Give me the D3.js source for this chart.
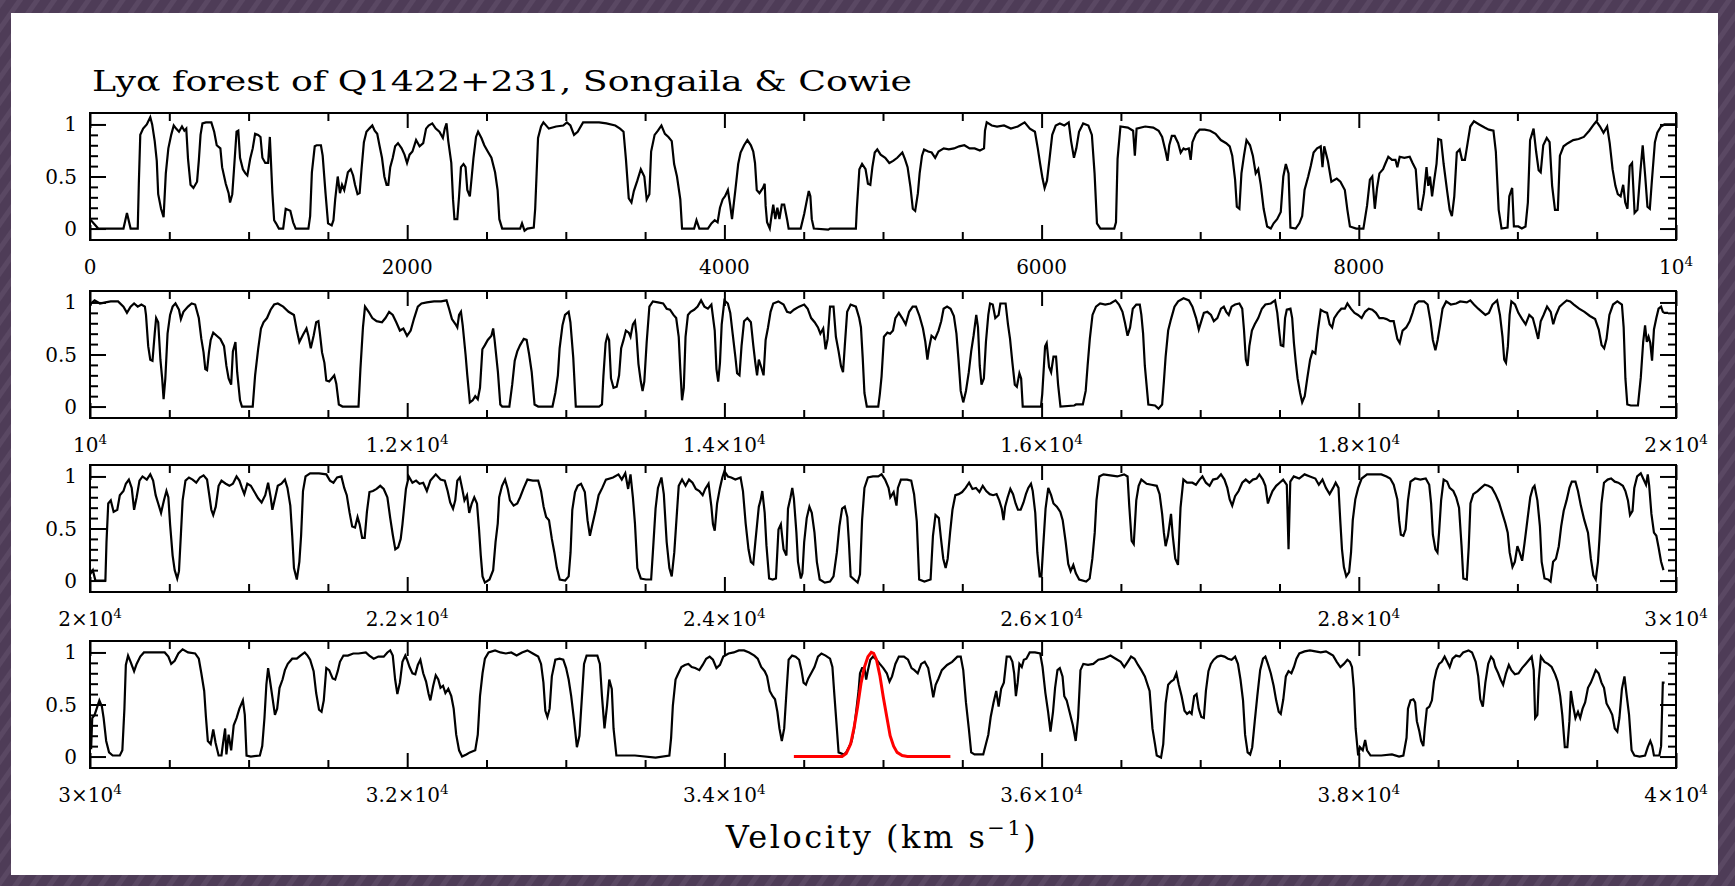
<!DOCTYPE html>
<html><head><meta charset="utf-8">
<script src="https://cdn.jsdelivr.net/npm/d3@7"></script>
<style>html,body{margin:0;padding:0;background:#4f3d58;}svg{display:block}</style>
</head><body><svg id="c" width="1735" height="886"></svg>
<script>
const titleText = "Lyα forest of Q1422+231, Songaila & Cowie";
const xAxisTitle = ["Velocity (km s", "−1", ")"];
const panelStarts = [0, 10000, 20000, 30000];
const yTickLabels = ["0", "0.5", "1"];
const xTickLabels = [
  ["0", "2000", "4000", "6000", "8000", "10^4"],
  ["10^4", "1.2×10^4", "1.4×10^4", "1.6×10^4", "1.8×10^4", "2×10^4"],
  ["2×10^4", "2.2×10^4", "2.4×10^4", "2.6×10^4", "2.8×10^4", "3×10^4"],
  ["3×10^4", "3.2×10^4", "3.4×10^4", "3.6×10^4", "3.8×10^4", "4×10^4"]
];

const spectrum1 = [[0,0.09],[52,0],[211,0],[233,0.15],[256,0],[301,0],[308,0.44],[317,0.90],[335,0.96],[358,1.0],[380,1.07],[392,1.0],[408,0.84],[421,0.65],[430,0.33],[448,0.19],[464,0.11],[478,0.53],[494,0.77],[512,0.90],[528,0.99],[543,0.96],[561,0.93],[580,0.98],[595,0.94],[607,0.96],[618,0.67],[634,0.42],[652,0.39],[675,0.45],[686,0.65],[697,0.90],[709,1.01],[731,1.02],[765,1.02],[783,0.93],[799,0.80],[822,0.77],[833,0.59],[856,0.43],[874,0.34],[883,0.25],[897,0.33],[908,0.57],[924,0.93],[935,0.94],[946,0.68],[964,0.57],[980,0.53],[992,0.51],[1010,0.67],[1026,0.77],[1041,0.91],[1060,0.90],[1075,0.88],[1087,0.68],[1105,0.63],[1123,0.63],[1134,0.88],[1150,0.34],[1161,0.08],[1173,0.05],[1191,0],[1218,0],[1234,0.19],[1263,0.17],[1281,0.06],[1297,0],[1377,0],[1388,0.12],[1399,0.54],[1417,0.79],[1429,0.80],[1456,0.80],[1467,0.70],[1485,0.34],[1501,0.05],[1524,0.03],[1535,0.08],[1546,0.28],[1562,0.50],[1576,0.34],[1589,0.42],[1603,0.37],[1614,0.45],[1626,0.54],[1644,0.57],[1659,0.51],[1671,0.42],[1687,0.33],[1700,0.34],[1712,0.57],[1727,0.83],[1743,0.93],[1761,0.96],[1780,0.99],[1795,0.94],[1811,0.91],[1825,0.80],[1841,0.68],[1856,0.50],[1870,0.42],[1881,0.42],[1893,0.59],[1909,0.68],[1924,0.79],[1942,0.82],[1965,0.77],[1983,0.71],[1999,0.63],[2015,0.71],[2033,0.74],[2056,0.85],[2078,0.79],[2101,0.82],[2119,0.96],[2135,0.99],[2158,1.01],[2180,0.96],[2203,0.93],[2225,0.87],[2237,0.96],[2248,1.01],[2259,0.84],[2278,0.63],[2289,0.28],[2298,0.09],[2316,0.09],[2327,0.31],[2339,0.59],[2355,0.62],[2368,0.59],[2379,0.37],[2395,0.31],[2407,0.50],[2418,0.68],[2434,0.88],[2447,0.93],[2468,0.87],[2486,0.80],[2508,0.74],[2531,0.68],[2554,0.54],[2570,0.37],[2581,0.09],[2599,0],[2712,0],[2724,0.05],[2740,-0.02],[2758,0],[2798,0.01],[2807,0.19],[2816,0.53],[2825,0.87],[2844,0.98],[2859,1.02],[2893,0.96],[2939,0.98],[2984,0.99],[3007,1.02],[3029,0.99],[3052,0.90],[3075,0.93],[3109,1.02],[3165,1.02],[3210,1.02],[3256,1.01],[3312,0.99],
[3342,0.96],[3364,0.93],[3379,0.67],[3397,0.29],[3414,0.25],[3429,0.36],[3451,0.46],[3473,0.57],[3495,0.50],[3510,0.28],[3527,0.33],[3538,0.74],[3560,0.90],[3581,0.94],[3603,0.99],[3625,0.91],[3647,0.88],[3668,0.84],[3683,0.62],[3701,0.50],[3722,0.28],[3733,0],[3809,0],[3824,0.08],[3842,0],[3896,0],[3918,0.05],[3939,0.08],[3957,0.06],[3972,0.20],[3989,0.28],[4004,0.31],[4022,0.37],[4037,0.22],[4048,0.09],[4069,0.37],[4087,0.62],[4102,0.73],[4124,0.80],[4145,0.85],[4167,0.80],[4182,0.74],[4193,0.63],[4204,0.37],[4221,0.34],[4243,0.39],[4254,0.43],[4260,0.22],[4269,0.06],[4286,0],[4297,0.12],[4308,0.23],[4321,0.09],[4334,0.20],[4347,0.09],[4362,0.23],[4377,0.23],[4395,0.09],[4405,0],[4481,0],[4503,0.14],[4521,0.28],[4532,0.36],[4542,0.31],[4551,0.09],[4564,0],[4655,-0.01],[4666,0],[4829,0],[4835,0.19],[4851,0.57],[4868,0.62],[4890,0.57],[4905,0.43],[4920,0.42],[4933,0.59],[4948,0.73],[4964,0.76],[4985,0.71],[5014,0.68],[5040,0.63],[5064,0.65],[5090,0.68],[5122,0.73],[5138,0.67],[5155,0.59],[5173,0.40],[5188,0.19],[5203,0.17],[5220,0.34],[5231,0.53],[5246,0.70],[5259,0.76],[5285,0.74],[5307,0.73],[5329,0.68],[5350,0.74],[5383,0.77],[5415,0.76],[5448,0.77],[5480,0.79],[5513,0.80],[5546,0.77],[5578,0.77],[5611,0.75],[5637,0.77],[5643,0.94],[5654,1.02],[5686,0.99],[5719,0.98],[5763,0.99],[5806,0.96],[5850,0.98],[5893,1.02],[5926,0.96],[5958,0.93],[5976,0.77],[5991,0.62],[6006,0.48],[6019,0.39],[6034,0.46],[6050,0.67],[6067,0.90],[6089,0.99],[6115,1.01],[6143,0.99],[6171,1.02],[6186,0.84],[6204,0.68],[6219,0.77],[6236,0.93],[6262,1.01],[6295,0.99],[6317,0.90],[6334,0.53],[6349,0.05],[6371,0],[6458,0],[6469,0.06],[6479,0.67],[6497,0.98],[6544,0.97],[6577,0.94],[6588,0.70],[6599,0.96],[6653,0.98],
[6704,0.97],[6738,0.94],[6760,0.88],[6782,0.74],[6794,0.65],[6805,0.80],[6821,0.89],[6839,0.89],[6861,0.82],[6877,0.73],[6895,0.77],[6906,0.76],[6928,0.77],[6940,0.66],[6951,0.83],[6973,0.91],[6996,0.95],[7029,0.95],[7063,0.94],[7097,0.91],[7130,0.85],[7164,0.82],[7186,0.79],[7202,0.70],[7220,0.47],[7231,0.21],[7247,0.19],[7260,0.53],[7276,0.70],[7292,0.85],[7314,0.80],[7332,0.70],[7350,0.53],[7366,0.57],[7382,0.42],[7400,0.19],[7422,0.02],[7445,0],[7463,0.05],[7485,0.09],[7508,0.16],[7524,0.50],[7540,0.62],[7557,0.53],[7569,0.01],[7602,0],[7625,0.05],[7643,0.12],[7658,0.37],[7681,0.50],[7697,0.60],[7715,0.73],[7737,0.77],[7760,0.79],[7771,0.59],[7782,0.79],[7805,0.65],[7827,0.45],[7861,0.48],[7884,0.45],[7912,0.37],[7928,0.18],[7944,0.02],[7984,0],[8029,0],[8052,0.22],[8070,0.47],[8085,0.50],[8101,0.19],[8115,0.39],[8130,0.53],[8153,0.57],[8169,0.63],[8186,0.69],[8209,0.66],[8231,0.66],[8243,0.59],[8258,0.69],[8287,0.68],[8321,0.69],[8339,0.63],[8359,0.57],[8377,0.19],[8393,0.18],[8411,0.34],[8427,0.59],[8438,0.41],[8449,0.50],[8462,0.31],[8474,0.45],[8490,0.62],[8501,0.86],[8519,0.85],[8535,0.62],[8557,0.36],[8573,0.18],[8587,0.12],[8602,0.31],[8618,0.73],[8636,0.76],[8651,0.66],[8669,0.66],[8687,0.83],[8703,0.98],[8726,1.03],[8759,1.00],[8793,0.97],[8820,0.95],[8849,0.94],[8864,0.74],[8882,0.18],[8900,0],[8938,0.01],[8949,0.31],[8967,0.39],[8978,0.02],[9006,0.02],[9028,0],[9051,0.02],[9066,0.25],[9080,0.85],[9102,0.96],[9118,0.74],[9134,0.56],[9147,0.54],[9163,0.80],[9185,0.87],[9203,0.83],[9219,0.41],[9237,0.18],[9255,0.18],[9268,0.70],[9291,0.79],[9318,0.82],[9352,0.85],[9386,0.86],[9419,0.88],[9453,0.94],[9482,1.00],[9498,1.03],[9521,0.98],[9543,0.92],[9566,0.98],[9582,0.82],[9600,0.57],[9618,0.41],[9633,0.33],[9651,0.31],[9667,0.42],[9680,0.25],[9694,0.19],[9708,0.60],[9723,0.63],[9739,0.15],[9757,0.18],[9775,0.54],[9790,0.80],[9806,0.50],[9820,0.21],[9835,0.19],[9847,0.44],[9867,0.83],[9882,0.92],[9905,0.98],[9927,1.00],[9995,1.00]];

const spectrum2 = [[10000,0.97],[10007,0.99],[10029,1.02],[10063,0.99],[10097,1.00],[10131,1.01],[10177,1.01],[10211,0.96],[10233,0.90],[10256,0.96],[10278,0.99],[10301,0.96],[10324,0.98],[10346,0.96],[10353,0.88],[10367,0.58],[10380,0.45],[10394,0.44],[10408,0.70],[10417,0.85],[10430,0.81],[10444,0.45],[10455,0.27],[10464,0.07],[10475,0.27],[10489,0.70],[10505,0.88],[10521,0.96],[10539,0.99],[10561,0.93],[10573,0.84],[10589,0.91],[10618,0.96],[10641,0.99],[10663,0.98],[10686,0.85],[10702,0.65],[10716,0.52],[10727,0.36],[10738,0.35],[10750,0.52],[10761,0.64],[10777,0.71],[10799,0.68],[10822,0.65],[10845,0.58],[10860,0.39],[10874,0.27],[10890,0.21],[10901,0.53],[10917,0.62],[10928,0.33],[10946,0.06],[10958,0],[11026,0],[11041,0.30],[11060,0.55],[11078,0.75],[11094,0.81],[11116,0.85],[11139,0.93],[11161,0.98],[11184,0.99],[11218,0.96],[11252,0.91],[11286,0.88],[11304,0.73],[11320,0.62],[11343,0.69],[11365,0.75],[11377,0.68],[11392,0.56],[11410,0.68],[11426,0.81],[11440,0.82],[11449,0.71],[11463,0.52],[11478,0.42],[11490,0.25],[11508,0.24],[11524,0.27],[11540,0.30],[11553,0.22],[11569,0.02],[11592,0],[11693,0],[11705,0.36],[11721,0.76],[11734,0.96],[11757,0.91],[11780,0.85],[11807,0.82],[11841,0.81],[11863,0.85],[11886,0.91],[11909,0.88],[11931,0.81],[11954,0.73],[11976,0.75],[11999,0.68],[12022,0.73],[12044,0.85],[12067,0.96],[12090,0.99],[12124,1.00],[12169,1.01],[12214,1.01],[12248,1.02],[12264,0.94],[12282,0.84],[12305,0.79],[12316,0.76],[12327,0.88],[12339,0.91],[12350,0.78],[12368,0.50],[12379,0.30],[12395,0.04],[12413,0.06],[12429,0.10],[12445,0.07],[12459,0.18],[12474,0.55],[12490,0.59],[12508,0.64],[12531,0.68],[12542,0.75],[12551,0.64],[12572,0.33],[12587,0.02],[12599,0],[12644,0],[12662,0.21],[12678,0.44],[12694,0.53],[12712,0.59],[12735,0.65],[12753,0.64],[12769,0.50],[12785,0.33],[12803,0.02],[12826,0],[12916,0],[12934,0.13],[12950,0.30],[12961,0.56],[12979,0.78],[12995,0.88],[13018,0.91],[13029,0.81],[13047,0.47],[13063,0],[13210,0],[13228,0.02],[13237,0.29],[13251,0.61],[13262,0.68],[13273,0.64],[13285,0.27],[13301,0.18],
[13321,0.19],[13336,0.30],[13349,0.56],[13364,0.64],[13379,0.73],[13397,0.71],[13408,0.67],[13423,0.79],[13436,0.82],[13445,0.70],[13458,0.41],[13473,0.24],[13484,0.15],[13495,0.24],[13510,0.62],[13527,0.96],[13549,1.01],[13581,1.00],[13614,0.99],[13636,0.94],[13657,0.93],[13679,0.88],[13696,0.85],[13712,0.67],[13722,0.36],[13733,0.06],[13744,0.18],[13755,0.67],[13770,0.88],[13787,0.91],[13809,0.93],[13831,0.96],[13853,1.02],[13874,0.96],[13896,0.94],[13918,0.98],[13939,0.73],[13950,0.36],[13961,0.24],[13972,0.42],[13983,0.79],[14000,1.02],[14022,0.99],[14037,0.90],[14052,0.70],[14069,0.48],[14080,0.32],[14095,0.30],[14108,0.58],[14124,0.82],[14145,0.85],[14167,0.81],[14182,0.59],[14195,0.42],[14206,0.30],[14217,0.45],[14232,0.38],[14247,0.30],[14260,0.64],[14275,0.76],[14291,0.91],[14308,0.99],[14340,1.01],[14373,0.98],[14395,0.91],[14416,0.90],[14438,0.93],[14471,0.96],[14503,0.98],[14525,0.94],[14547,0.85],[14569,0.81],[14590,0.76],[14605,0.70],[14623,0.75],[14638,0.55],[14651,0.65],[14666,0.96],[14688,0.96],[14703,0.67],[14720,0.53],[14735,0.39],[14748,0.33],[14759,0.58],[14774,0.91],[14796,0.98],[14829,0.96],[14850,0.85],[14861,0.76],[14872,0.47],[14883,0.13],[14898,0],[14970,0],[14980,0.12],[14991,0.29],[15006,0.67],[15028,0.71],[15045,0.70],[15063,0.73],[15078,0.85],[15100,0.90],[15121,0.85],[15143,0.79],[15165,0.91],[15187,0.96],[15208,0.96],[15230,0.87],[15252,0.75],[15267,0.62],[15280,0.45],[15289,0.55],[15306,0.68],[15328,0.65],[15350,0.73],[15367,0.82],[15382,0.94],[15404,0.96],[15426,0.94],[15447,0.87],[15463,0.70],[15476,0.45],[15490,0.15],[15506,0.04],[15523,0.15],[15541,0.33],[15556,0.53],[15571,0.68],[15588,0.88],[15599,0.76],[15610,0.39],[15621,0.21],[15636,0.27],[15649,0.62],[15664,0.88],[15675,0.99],[15692,0.98],[15708,0.85],[15729,0.88],[15740,0.99],[15773,0.99],[15788,0.79],[15801,0.65],[15816,0.42],[15831,0.21],[15844,0.19],[15860,0.32],[15871,0.27],[15881,0],[15996,0],[16004,0.12],[16022,0.58],[16032,0.61],[16047,0.38],[16060,0.33],[16075,0.48],[16091,0.48],[16104,0.21],[16119,0],[16206,0.01],[16217,0.02],[16260,0.02],[16278,0.15],[16290,0.39],[16304,0.65],[16321,0.88],[16343,0.96],[16369,0.99],[16401,0.98],[16434,0.99],[16466,1.02],[16488,0.98],[16510,0.91],[16525,0.81],[16542,0.68],[16558,0.76],[16575,0.94],[16597,0.98],[16619,0.98],[16629,0.88],[16640,0.70],[16651,0.39],[16673,0.02],
[16715,0.01],[16737,-0.02],[16760,0.02],[16771,0.24],[16782,0.48],[16798,0.73],[16816,0.84],[16838,0.96],[16861,1.01],[16895,1.04],[16929,1.02],[16951,0.96],[16974,0.85],[16991,0.74],[17007,0.82],[17023,0.90],[17045,0.91],[17068,0.88],[17086,0.82],[17108,0.85],[17131,0.94],[17149,0.96],[17164,0.91],[17180,0.88],[17198,0.96],[17220,0.98],[17247,0.99],[17265,0.94],[17276,0.74],[17288,0.45],[17299,0.39],[17310,0.58],[17326,0.73],[17344,0.79],[17366,0.85],[17389,0.94],[17411,0.98],[17445,0.99],[17472,1.02],[17486,0.90],[17497,0.74],[17508,0.59],[17524,0.58],[17535,0.85],[17546,0.93],[17569,0.94],[17580,0.85],[17591,0.61],[17603,0.42],[17614,0.27],[17630,0.13],[17643,0.04],[17659,0.10],[17675,0.27],[17693,0.45],[17708,0.53],[17726,0.51],[17742,0.73],[17760,0.93],[17782,0.91],[17800,0.90],[17816,0.79],[17832,0.76],[17845,0.85],[17867,0.90],[17890,0.94],[17912,0.94],[17928,0.99],[17950,0.94],[17973,0.90],[17995,0.88],[18018,0.85],[18040,0.91],[18063,0.94],[18085,0.93],[18108,0.90],[18130,0.85],[18153,0.85],[18175,0.84],[18198,0.82],[18220,0.82],[18243,0.65],[18258,0.61],[18276,0.73],[18299,0.76],[18321,0.82],[18339,0.90],[18355,0.98],[18377,1.01],[18411,1.01],[18434,0.98],[18452,0.82],[18467,0.64],[18483,0.54],[18497,0.64],[18513,0.79],[18528,0.94],[18551,1.01],[18580,0.98],[18614,0.99],[18639,1.01],[18681,1.00],[18703,1.02],[18726,0.98],[18753,0.94],[18776,0.91],[18798,0.88],[18820,0.90],[18843,0.98],[18872,1.02],[18890,0.88],[18906,0.67],[18917,0.45],[18928,0.42],[18940,0.58],[18951,0.88],[18962,1.01],[18985,0.98],[19006,0.90],[19030,0.84],[19052,0.79],[19075,0.88],[19097,0.85],[19113,0.76],[19131,0.65],[19147,0.82],[19165,0.88],[19187,0.96],[19210,0.91],[19226,0.79],[19243,0.88],[19266,0.96],[19288,0.99],[19311,1.02],[19333,1.01],[19356,0.98],[19389,0.94],[19423,0.91],[19457,0.87],[19490,0.84],[19513,0.74],[19531,0.59],[19547,0.56],[19562,0.65],[19580,0.88],[19603,0.98],[19630,1.01],[19659,0.98],[19670,0.76],[19681,0.27],[19693,0.02],[19715,0.01],[19760,0.01],[19778,0.28],[19793,0.62],[19805,0.78],[19816,0.62],[19827,0.67],[19838,0.61],[19849,0.44],[19861,0.74],[19876,0.85],[19890,0.94],[19906,0.96],[19917,0.91],[19928,0.90],[19950,0.90]];

const spectrum3 = [[20000,0.06],[20018,0.10],[20034,0],[20097,0],[20104,0.37],[20115,0.74],[20131,0.77],[20149,0.66],[20172,0.68],[20188,0.82],[20211,0.86],[20226,0.93],[20245,0.97],[20263,0.89],[20278,0.68],[20294,0.80],[20312,0.96],[20331,1.00],[20358,0.97],[20380,1.02],[20398,0.96],[20414,0.82],[20430,0.74],[20448,0.65],[20466,0.77],[20482,0.86],[20494,0.80],[20505,0.54],[20521,0.24],[20534,0.10],[20550,0.02],[20561,0.09],[20573,0.44],[20584,0.77],[20602,0.96],[20624,0.99],[20647,0.97],[20670,0.94],[20693,0.99],[20716,1.01],[20738,0.97],[20754,0.80],[20765,0.68],[20777,0.63],[20793,0.71],[20811,0.91],[20829,0.96],[20856,0.93],[20879,0.91],[20901,0.93],[20924,1.00],[20942,0.96],[20958,0.89],[20973,0.83],[20992,0.93],[21014,0.91],[21037,0.85],[21060,0.79],[21082,0.75],[21105,0.82],[21123,0.94],[21139,0.80],[21150,0.68],[21168,0.80],[21184,0.91],[21207,0.93],[21229,0.97],[21245,0.89],[21263,0.72],[21275,0.43],[21286,0.12],[21304,0.01],[21320,0.18],[21331,0.43],[21343,0.86],[21359,1.00],[21388,1.03],[21444,1.03],[21490,1.02],[21513,0.96],[21535,0.94],[21558,0.99],[21585,1.00],[21603,0.89],[21619,0.82],[21637,0.65],[21653,0.52],[21671,0.51],[21687,0.61],[21700,0.54],[21716,0.41],[21732,0.41],[21746,0.66],[21762,0.85],[21784,0.86],[21807,0.88],[21830,0.91],[21852,0.88],[21875,0.80],[21893,0.60],[21909,0.44],[21925,0.30],[21943,0.32],[21959,0.40],[21970,0.54],[21983,0.74],[21992,0.88],[22010,1.00],[22033,0.94],[22056,0.96],[22078,0.93],[22101,0.94],[22124,0.86],[22146,0.96],[22180,1.02],[22210,0.97],[22237,0.96],[22255,0.86],[22271,0.75],[22289,0.69],[22303,0.77],[22316,0.96],[22332,0.99],[22346,0.89],[22361,0.77],[22377,0.82],[22391,0.65],[22407,0.74],[22423,0.80],[22440,0.74],[22453,0.49],[22464,0.24],[22475,0.04],[22490,-0.02],[22519,0.01],[22542,0.10],[22557,0.37],[22571,0.55],[22580,0.80],[22598,0.91],[22617,0.97],[22634,0.88],[22648,0.77],[22671,0.72],[22694,0.74],[22712,0.80],[22735,0.89],[22758,0.97],[22792,0.96],[22826,0.96],[22844,0.86],[22860,0.71],[22876,0.61],[22894,0.58],[22912,0.40],[22928,0.27],[22944,0.12],[22962,0.01],[22996,0],[23018,0.04],[23030,0.27],[23041,0.68],[23058,0.85],[23075,0.91],[23096,0.93],[23120,0.85],[23137,0.58],[23152,0.43],[23168,0.54],[23186,0.66],[23207,0.82],[23230,0.89],[23253,0.97],[23298,0.99],
[23332,1.02],[23353,0.97],[23375,1.03],[23393,0.88],[23408,1.02],[23423,0.80],[23436,0.55],[23451,0.12],[23473,0.02],[23505,0.01],[23538,0.01],[23549,0.27],[23566,0.69],[23581,0.89],[23603,0.99],[23618,0.83],[23636,0.37],[23653,0.12],[23668,0.04],[23684,0.27],[23701,0.66],[23712,0.91],[23733,0.97],[23755,0.91],[23777,0.97],[23799,0.94],[23820,0.88],[23842,0.86],[23863,0.82],[23879,0.88],[23900,0.93],[23918,0.71],[23928,0.54],[23939,0.48],[23954,0.74],[23972,0.89],[23987,0.99],[24000,1.05],[24022,1.00],[24043,0.99],[24069,0.97],[24102,0.99],[24117,0.86],[24134,0.55],[24152,0.30],[24167,0.18],[24182,0.16],[24195,0.37],[24217,0.71],[24228,0.77],[24239,0.86],[24254,0.65],[24265,0.34],[24282,0.02],[24304,0.01],[24325,0.02],[24341,0.49],[24356,0.54],[24373,0.30],[24391,0.24],[24401,0.69],[24417,0.80],[24428,0.89],[24438,0.79],[24454,0.46],[24464,0.18],[24482,0.02],[24492,0.07],[24503,0.37],[24519,0.60],[24536,0.71],[24551,0.65],[24568,0.46],[24583,0.18],[24601,0.01],[24633,-0.02],[24666,-0.01],[24688,0.04],[24709,0.27],[24725,0.52],[24742,0.69],[24759,0.71],[24775,0.61],[24785,0.37],[24796,0.04],[24818,0.01],[24840,-0.02],[24855,0.06],[24868,0.58],[24883,0.89],[24905,0.99],[24937,1.00],[24970,1.00],[24991,1.02],[25013,0.97],[25035,0.89],[25046,0.80],[25067,0.85],[25085,0.72],[25094,0.89],[25113,0.97],[25152,0.97],[25178,0.96],[25196,0.83],[25213,0.57],[25228,0.01],[25261,-0.01],[25300,0.01],[25315,0.43],[25331,0.63],[25352,0.60],[25365,0.41],[25380,0.21],[25395,0.12],[25408,0.21],[25423,0.46],[25438,0.68],[25456,0.82],[25477,0.83],[25499,0.85],[25521,0.89],[25543,0.94],[25564,0.88],[25586,0.89],[25608,0.85],[25629,0.91],[25651,0.86],[25673,0.83],[25694,0.82],[25716,0.83],[25733,0.77],[25749,0.69],[25760,0.58],[25770,0.71],[25786,0.80],[25803,0.88],[25820,0.83],[25836,0.74],[25851,0.68],[25868,0.68],[25886,0.75],[25901,0.83],[25916,0.89],[25933,0.93],[25944,0.86],[25960,0.65],[25973,0.27],[25988,0.04],[25999,0.04],[26009,0.30],[26025,0.69],[26042,0.89],[26060,0.82],[26075,0.74],[26096,0.71],[26118,0.66],[26133,0.58],[26151,0.38],[26168,0.16],[26183,0.09],[26200,0.15],[26216,0.07],[26237,0.01],[26281,-0.01],[26303,0.02],[26320,0.21],[26335,0.46],[26346,0.77],[26364,1.00],[26390,1.02],[26433,1.01],[26477,1.00],[26520,1.02],[26542,1.00],[26553,0.71],[26568,0.38],[26581,0.35],[26597,0.77],[26612,0.91],[26629,0.97],[26662,0.93],
[26693,0.92],[26726,0.91],[26744,0.83],[26760,0.64],[26771,0.46],[26782,0.33],[26797,0.43],[26816,0.64],[26827,0.43],[26843,0.21],[26860,0.15],[26876,0.70],[26894,0.97],[26917,0.94],[26951,0.94],[26973,0.92],[26996,0.97],[27014,1.00],[27036,0.94],[27059,0.91],[27081,0.97],[27108,0.98],[27131,1.02],[27153,0.97],[27171,0.89],[27186,0.78],[27202,0.72],[27220,0.81],[27242,0.86],[27265,0.94],[27287,0.97],[27310,0.94],[27332,0.97],[27355,0.98],[27373,1.02],[27395,0.97],[27411,0.91],[27427,0.74],[27440,0.80],[27456,0.86],[27479,0.91],[27501,0.94],[27523,0.97],[27546,0.92],[27557,0.30],[27568,0.95],[27590,1.00],[27624,0.98],[27658,1.02],[27692,1.00],[27726,0.98],[27748,0.92],[27771,0.97],[27793,0.89],[27816,0.83],[27838,0.89],[27854,0.94],[27872,0.89],[27883,0.58],[27894,0.30],[27906,0.13],[27921,0.04],[27939,0.08],[27951,0.27],[27962,0.58],[27978,0.78],[27996,0.89],[28018,0.98],[28052,1.02],[28097,1.02],[28142,1.02],[28175,1.00],[28198,0.98],[28220,0.92],[28243,0.78],[28254,0.58],[28265,0.44],[28281,0.43],[28295,0.49],[28310,0.77],[28326,0.95],[28355,0.98],[28388,0.97],[28422,0.98],[28444,0.92],[28456,0.74],[28467,0.44],[28483,0.30],[28496,0.27],[28506,0.46],[28519,0.77],[28535,0.97],[28557,0.95],[28573,0.89],[28596,0.86],[28614,0.80],[28632,0.70],[28648,0.33],[28659,0.02],[28681,0.01],[28693,0.32],[28704,0.74],[28722,0.83],[28749,0.86],[28771,0.89],[28794,0.92],[28816,0.91],[28839,0.89],[28861,0.83],[28884,0.75],[28906,0.64],[28924,0.55],[28939,0.46],[28951,0.27],[28969,0.13],[28984,0.18],[29000,0.33],[29014,0.27],[29030,0.19],[29045,0.36],[29063,0.58],[29081,0.80],[29097,0.89],[29108,0.91],[29126,0.77],[29142,0.52],[29153,0.18],[29171,0.02],[29193,0.01],[29209,-0.01],[29225,0.18],[29243,0.21],[29261,0.33],[29276,0.52],[29292,0.67],[29310,0.77],[29328,0.89],[29343,0.95],[29366,0.95],[29382,0.86],[29400,0.72],[29422,0.58],[29445,0.46],[29463,0.21],[29479,0.05],[29494,0.01],[29508,0.18],[29517,0.39],[29530,0.74],[29546,0.94],[29569,0.97],[29591,0.98],[29614,0.95],[29636,0.94],[29665,0.91],[29681,0.86],[29697,0.77],[29710,0.63],[29726,0.67],[29737,0.89],[29755,1.00],[29778,1.03],[29793,0.98],[29811,0.92],[29822,1.02],[29831,0.91],[29845,0.64],[29861,0.46],[29876,0.43],[29890,0.32],[29906,0.18],[29921,0.10]];

const spectrum4 = [[30007,0.07],[30014,0.37],[30029,0.40],[30059,0.54],[30075,0.48],[30086,0.37],[30102,0.15],[30120,0.04],[30143,0.01],[30188,0.01],[30204,0.06],[30217,0.46],[30226,0.88],[30240,0.97],[30256,0.91],[30278,0.82],[30294,0.89],[30317,0.96],[30340,1.00],[30380,1.00],[30426,1.00],[30471,1.00],[30494,0.96],[30512,0.89],[30534,0.92],[30557,0.99],[30584,1.03],[30618,1.00],[30663,0.99],[30686,0.94],[30702,0.80],[30720,0.63],[30731,0.38],[30743,0.15],[30761,0.12],[30777,0.26],[30792,0.13],[30811,0.01],[30829,0.01],[30838,0.12],[30852,0.27],[30860,0.02],[30874,0.21],[30890,0.06],[30906,0.30],[30924,0.37],[30942,0.46],[30964,0.54],[30976,0.40],[30987,0.01],[31014,0],[31071,0.01],[31086,0.10],[31100,0.37],[31112,0.69],[31123,0.85],[31134,0.74],[31150,0.57],[31166,0.40],[31180,0.46],[31195,0.66],[31214,0.74],[31229,0.83],[31247,0.89],[31275,0.94],[31304,0.94],[31327,0.97],[31354,1.00],[31372,0.97],[31388,0.93],[31410,0.82],[31426,0.61],[31444,0.45],[31460,0.43],[31474,0.54],[31490,0.85],[31508,0.83],[31530,0.75],[31546,0.74],[31562,0.82],[31576,0.91],[31598,0.97],[31626,0.97],[31660,0.99],[31693,0.99],[31739,1.00],[31761,0.97],[31789,0.94],[31818,0.96],[31852,0.96],[31875,1.00],[31893,1.02],[31909,0.97],[31924,0.74],[31938,0.60],[31954,0.71],[31970,0.91],[31988,0.97],[31999,0.93],[32015,0.86],[32033,0.80],[32051,0.79],[32067,0.88],[32083,0.93],[32101,0.80],[32119,0.72],[32135,0.60],[32146,0.54],[32164,0.68],[32180,0.78],[32196,0.74],[32210,0.66],[32226,0.68],[32241,0.61],[32259,0.65],[32278,0.58],[32293,0.46],[32309,0.21],[32327,0.06],[32346,0],[32373,0.02],[32395,0.04],[32429,0.06],[32445,0.21],[32459,0.58],[32475,0.80],[32490,0.94],[32513,1.00],[32554,1.02],[32588,1.00],[32622,0.99],[32656,1.00],[32690,0.97],[32724,1.00],[32758,1.02],[32792,0.99],[32826,0.96],[32844,0.89],[32859,0.71],[32871,0.44],[32884,0.38],[32898,0.46],[32912,0.77],[32934,0.93],[32961,0.94],[32984,0.93],[33002,0.85],[33018,0.74],[33034,0.58],[33052,0.35],[33070,0.09],[33086,0.20],[33102,0.58],[33115,0.89],[33131,0.97],[33165,0.97],[33199,0.97],[33215,0.89],[33228,0.58],[33244,0.27],[33260,0.49],[33274,0.74],[33290,0.65],[33301,0.27],[33319,0.01],
[33327,0.01],[33436,0.01],[33566,-0.01],[33653,0.01],[33664,0.18],[33675,0.49],[33692,0.74],[33707,0.79],[33729,0.86],[33751,0.88],[33773,0.89],[33794,0.86],[33816,0.85],[33842,0.83],[33863,0.88],[33885,0.94],[33907,0.96],[33928,0.93],[33950,0.85],[33972,0.88],[33993,0.96],[34026,0.99],[34059,1.00],[34091,1.02],[34124,1.02],[34156,1.00],[34189,0.97],[34210,0.94],[34232,0.86],[34254,0.82],[34269,0.77],[34286,0.63],[34304,0.58],[34319,0.55],[34334,0.43],[34347,0.27],[34362,0.15],[34377,0.27],[34391,0.61],[34405,0.93],[34427,0.97],[34449,0.96],[34471,0.93],[34486,0.83],[34499,0.71],[34514,0.69],[34529,0.75],[34547,0.80],[34568,0.86],[34590,0.96],[34612,0.99],[34638,0.97],[34666,0.94],[34681,0.86],[34694,0.58],[34709,0.27],[34720,0.04],[34753,0.02],[34768,0.04],[34785,0.09],[34803,0.15],[34818,0.27],[34833,0.46],[34846,0.63],[34855,0.80],[34868,0.85],[34883,0.85],[34894,0.74],[34905,0.83],[34920,0.93],[34937,0.96],[34959,0.93],[34980,0.89],[35002,0.85],[35024,0.80],[35041,0.72],[35057,0.77],[35078,0.89],[35100,0.96],[35132,0.96],[35158,0.93],[35180,0.85],[35198,0.83],[35219,0.80],[35241,0.89],[35263,0.91],[35285,0.85],[35302,0.71],[35317,0.57],[35332,0.69],[35350,0.75],[35371,0.83],[35404,0.88],[35436,0.91],[35469,0.96],[35490,0.96],[35506,0.83],[35523,0.52],[35541,0.27],[35556,0.04],[35577,0.02],[35632,0.02],[35649,0.12],[35664,0.21],[35679,0.38],[35697,0.52],[35714,0.63],[35729,0.48],[35745,0.65],[35762,0.71],[35780,0.96],[35801,0.96],[35816,0.91],[35827,0.80],[35838,0.58],[35849,0.71],[35860,0.89],[35875,0.86],[35888,0.93],[35904,0.94],[35925,1.00],[35958,1.00],[35991,0.99],[36006,0.86],[36024,0.61],[36041,0.43],[36056,0.24],[36072,0.43],[36085,0.66],[36100,0.83],[36115,0.85],[36132,0.77],[36143,0.58],[36158,0.54],[36176,0.43],[36197,0.30],[36215,0.15],[36230,0.37],[36245,0.83],[36263,0.89],[36293,0.88],[36326,0.89],[36358,0.93],[36391,0.94],[36434,0.97],[36467,0.94],[36499,0.91],[36521,0.86],[36543,0.91],[36564,0.96],[36586,0.94],[36608,0.88],[36629,0.83],[36651,0.77],
[36681,0.63],[36699,0.27],[36715,0.12],[36726,0.01],[36753,-0.01],[36767,0.12],[36782,0.51],[36798,0.69],[36816,0.72],[36834,0.74],[36850,0.80],[36865,0.69],[36883,0.58],[36901,0.44],[36917,0.41],[36933,0.43],[36946,0.41],[36962,0.58],[36977,0.60],[36991,0.46],[37007,0.38],[37023,0.37],[37036,0.63],[37052,0.82],[37067,0.89],[37085,0.93],[37108,0.96],[37131,0.97],[37153,0.96],[37175,0.94],[37198,0.93],[37220,0.96],[37238,0.89],[37254,0.74],[37270,0.54],[37283,0.21],[37299,0.04],[37315,0.02],[37328,0.09],[37344,0.34],[37360,0.58],[37378,0.83],[37396,0.94],[37411,0.96],[37427,0.89],[37445,0.80],[37463,0.68],[37479,0.54],[37495,0.43],[37508,0.41],[37524,0.55],[37540,0.77],[37557,0.82],[37575,0.80],[37591,0.86],[37607,0.94],[37625,0.99],[37658,1.01],[37692,1.02],[37726,1.01],[37760,1.00],[37793,1.01],[37816,0.99],[37838,0.97],[37861,0.91],[37884,0.86],[37906,0.89],[37928,0.93],[37944,0.91],[37957,0.86],[37969,0.65],[37980,0.27],[37996,0.01],[38007,0.09],[38025,0.06],[38040,0.16],[38052,0.06],[38074,0.01],[38142,0.01],[38209,0.02],[38254,0],[38281,0.01],[38301,0.18],[38310,0.46],[38326,0.54],[38344,0.55],[38355,0.52],[38366,0.34],[38382,0.24],[38393,0.15],[38407,0.10],[38416,0.27],[38429,0.46],[38445,0.48],[38461,0.54],[38474,0.72],[38490,0.83],[38506,0.89],[38523,0.91],[38541,0.96],[38557,0.91],[38573,0.86],[38591,0.94],[38613,0.97],[38636,0.96],[38658,1.00],[38692,1.02],[38714,1.00],[38737,0.91],[38753,0.77],[38766,0.55],[38782,0.48],[38798,0.71],[38816,0.89],[38834,0.96],[38849,0.93],[38861,0.86],[38879,0.80],[38894,0.74],[38910,0.69],[38928,0.80],[38946,0.88],[38962,0.83],[38984,0.79],[39007,0.80],[39029,0.85],[39052,0.89],[39074,0.93],[39090,0.96],[39103,0.83],[39112,0.37],[39126,0.40],[39135,0.74],[39148,0.96],[39171,0.91],[39193,0.89],[39216,0.86],[39238,0.79],[39254,0.72],[39270,0.58],[39283,0.40],[39299,0.09],[39315,0.09],[39328,0.34],[39337,0.63],[39351,0.49],[39366,0.37],[39382,0.43],[39396,0.37],[39411,0.46],[39427,0.52],[39445,0.66],[39463,0.71],[39479,0.77],[39494,0.83],[39512,0.80],[39530,0.71],[39546,0.66],[39562,0.51],[39580,0.46],[39598,0.40],[39614,0.27],[39630,0.24],[39643,0.37],[39659,0.65],[39675,0.77],[39688,0.60],[39704,0.40],[39720,0.06],[39738,0.01],[39771,0],[39805,0.01],[39822,0.09],[39838,0.15],[39850,0.10],[39861,0.01],[39895,0.01],[39906,0.10],[39917,0.71],[39928,0.71]];

const profileVelocity = [34438,34742,34768,34796,34818,34839,34861,34883,34905,34926,34941,34959,34980,35002,35024,35045,35067,35089,35121,35154,35425];
const profileFlux     = [0,0,0.03,0.12,0.28,0.47,0.70,0.86,0.96,1.00,0.99,0.93,0.78,0.57,0.38,0.20,0.10,0.04,0.01,0,0];

const spectra = [spectrum1, spectrum2, spectrum3, spectrum4];

// ---------- layout ----------
const W = 1735, H = 886;
const L = 90, R = 1676;
const panelTops = [113, 291, 465, 641];
const panelH = 127;
const font = "'DejaVu Serif', 'Liberation Serif', serif";

const svg = d3.select("#c");
const defs = svg.append("defs");
const pat = defs.append("pattern").attr("id","tex").attr("width",14).attr("height",14)
  .attr("patternUnits","userSpaceOnUse").attr("patternTransform","rotate(35)");
pat.append("rect").attr("width",14).attr("height",14).attr("fill","#4e3c57");
pat.append("rect").attr("width",5).attr("height",14).attr("fill","#5a4863");
svg.append("rect").attr("width",W).attr("height",H).attr("fill","url(#tex)");
svg.append("rect").attr("x",11).attr("y",13).attr("width",1707).attr("height",862).attr("fill","#fff");

// title
svg.append("text").attr("x", 92).attr("y", 91)
  .attr("font-family", font).attr("font-size", 27).attr("fill","#000")
  .attr("textLength", 820).attr("lengthAdjust","spacingAndGlyphs")
  .text(titleText);

function label(g, str, x, y, size, anchor) {
  const parts = str.split("^");
  const t = g.append("text").attr("x", x).attr("y", y)
    .attr("font-family", font).attr("font-size", size).attr("fill","#000")
    .attr("text-anchor", anchor || "middle");
  t.append("tspan").text(parts[0]);
  if (parts[1]) t.append("tspan").attr("dy", -size*0.42).attr("font-size", size*0.68).text(parts[1]);
  return t;
}

panelStarts.forEach((start, i) => {
  const top = panelTops[i], bottom = top + panelH;
  const x = d3.scaleLinear().domain([start, start + 10000]).range([L, R]);
  const y = d3.scaleLinear().domain([-0.11, 1.11]).range([bottom, top]);
  const g = svg.append("g");

  const majorX = d3.range(start, start + 10001, 2000);
  const minorX = d3.range(start, start + 10001, 500).filter(v => (v - start) % 2000 !== 0);
  const majorY = [0, 0.5, 1];
  const minorY = d3.range(0, 11).map(k => k / 10).filter(v => v !== 0 && v !== 0.5 && v !== 1);

  const styleAxis = sel => { sel.select(".domain").remove(); sel.selectAll("line").attr("stroke","#000").attr("stroke-width",2); sel.selectAll("text").remove(); };

  g.append("g").attr("transform",`translate(0,${bottom})`).call(d3.axisBottom(x).tickValues(minorX).tickSize(-8).tickFormat("")).call(styleAxis);
  g.append("g").attr("transform",`translate(0,${bottom})`).call(d3.axisBottom(x).tickValues(majorX).tickSize(-15).tickFormat("")).call(styleAxis);
  g.append("g").attr("transform",`translate(0,${top})`).call(d3.axisTop(x).tickValues(minorX).tickSize(-8).tickFormat("")).call(styleAxis);
  g.append("g").attr("transform",`translate(0,${top})`).call(d3.axisTop(x).tickValues(majorX).tickSize(-15).tickFormat("")).call(styleAxis);
  g.append("g").attr("transform",`translate(${L},0)`).call(d3.axisLeft(y).tickValues(minorY).tickSize(-8).tickFormat("")).call(styleAxis);
  g.append("g").attr("transform",`translate(${L},0)`).call(d3.axisLeft(y).tickValues(majorY).tickSize(-16).tickFormat("")).call(styleAxis);
  g.append("g").attr("transform",`translate(${R},0)`).call(d3.axisRight(y).tickValues(minorY).tickSize(-8).tickFormat("")).call(styleAxis);
  g.append("g").attr("transform",`translate(${R},0)`).call(d3.axisRight(y).tickValues(majorY).tickSize(-16).tickFormat("")).call(styleAxis);

  const clipId = "clip" + i;
  defs.append("clipPath").attr("id", clipId).append("rect").attr("x", L).attr("y", top).attr("width", R - L).attr("height", panelH);
  const line = d3.line().x(d => x(d[0])).y(d => y(d[1]));
  g.append("path").datum(spectra[i]).attr("clip-path",`url(#${clipId})`)
    .attr("d", line).attr("fill","none").attr("stroke","#000").attr("stroke-width",2.2).attr("stroke-linejoin","miter");

  if (i === 3) {
    const prof = profileVelocity.map((v, k) => [v, profileFlux[k]]);
    g.append("path").datum(prof).attr("d", line).attr("fill","none").attr("stroke","#ff0000").attr("stroke-width",3);
  }

  g.append("rect").attr("x", L).attr("y", top).attr("width", R - L).attr("height", panelH)
    .attr("fill","none").attr("stroke","#000").attr("stroke-width",2);

  majorY.forEach((v, k) => {
    g.append("text").attr("x", L - 13).attr("y", y(v) + 7)
      .attr("font-family", font).attr("font-size", 20).attr("text-anchor","end").attr("fill","#000")
      .text(yTickLabels[k]);
  });
  majorX.forEach((v, k) => {
    label(g, xTickLabels[i][k], x(v), bottom + 34, 20, "middle");
  });
});

// x-axis title
const xt = svg.append("text").attr("x", 882).attr("y", 848)
  .attr("font-family", font).attr("font-size", 32).attr("letter-spacing", 2.5)
  .attr("text-anchor","middle").attr("fill","#000");
xt.append("tspan").text(xAxisTitle[0]);
xt.append("tspan").attr("dy", -13).attr("font-size", 21).text(xAxisTitle[1]);
xt.append("tspan").attr("dy", 13).text(xAxisTitle[2]);
</script></body></html>
